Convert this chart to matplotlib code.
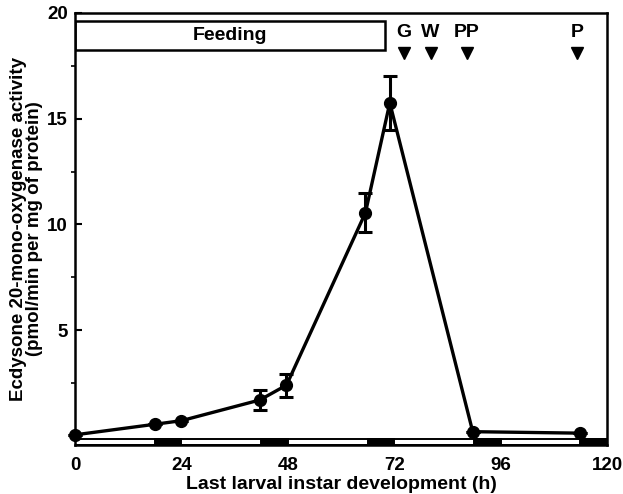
import matplotlib
matplotlib.use("Agg")
import matplotlib.pyplot as plt
from matplotlib.patches import Rectangle
from matplotlib.ticker import MultipleLocator

plt.rcParams['font.family'] = ['Liberation Sans', 'DejaVu Sans']
plt.rcParams['font.weight'] = 'bold'

hours = [0, 18, 24, 41.7, 47.7, 65.5, 71, 89.7, 114]
activity = [0.05, 0.55, 0.72, 1.7, 2.4, 10.55, 15.75, 0.2, 0.13]
errors = [0, 0, 0, 0.47, 0.55, 0.93, 1.27, 0, 0]

dark_periods = [(18, 24), (42, 48), (66, 72), (90, 96), (114, 120)]
stage_labels = ['G', 'W', 'PP', 'P']
stage_hours = [74.2, 80.2, 88.3, 113.3]
feeding_end = 70
xticks = [0, 24, 48, 72, 96, 120]
yticks = [5, 10, 15, 20]

fig = plt.figure(figsize=(6.23, 4.94), dpi=100)
ax = fig.add_axes([0.1204, 0.0992, 0.8540, 0.8745])
ax.set_xlim(0, 120)
ax.set_ylim(-0.43, 20)

ax.errorbar(hours, activity, yerr=errors, color='black', lw=2.4, marker='o',
            markersize=8.5, capsize=5, capthick=2.2, elinewidth=2.2, zorder=3,
            clip_on=False)

# photoperiod bar
bar_lo, bar_hi = -0.42, -0.13
ax.add_patch(Rectangle((0, bar_lo), 120, bar_hi - bar_lo, facecolor='white',
                       edgecolor='black', lw=1.4, zorder=2))
for a, b in dark_periods:
    ax.add_patch(Rectangle((a, bar_lo), b - a, bar_hi - bar_lo, facecolor='black',
                           edgecolor='black', lw=1.4, zorder=2))

# feeding box
ax.add_patch(Rectangle((0, 18.25), feeding_end, 1.35, facecolor='white',
                       edgecolor='black', lw=1.8, zorder=2))
ax.text(feeding_end / 2, 18.92, 'Feeding', ha='center', va='center', fontsize=14,
        fontweight='bold')
for lab, h in zip(stage_labels, stage_hours):
    ax.text(h, 19.1, lab, ha='center', va='center', fontsize=14, fontweight='bold')
    ax.plot([h], [18.1], marker='v', color='black', markersize=8, zorder=3)

ax.set_xticks(xticks)
ax.set_yticks(yticks)
ax.yaxis.set_minor_locator(MultipleLocator(2.5))
ax.tick_params(axis='both', labelsize=13.5, direction='in', width=1.5)
ax.tick_params(axis='x', length=0, pad=9)
ax.tick_params(axis='y', which='major', length=5, pad=5)
ax.tick_params(axis='y', which='minor', length=3, width=1.2)
for lbl in ax.get_xticklabels() + ax.get_yticklabels():
    lbl.set_fontweight('bold')
for s in ax.spines.values():
    s.set_linewidth(1.8)

ax.set_xlabel('Last larval instar development (h)', fontsize=14, fontweight='bold',
              labelpad=1)
ax.set_ylabel('Ecdysone 20-mono-oxygenase activity\n(pmol/min per mg of protein)',
              fontsize=13.5, fontweight='bold', labelpad=3, linespacing=0.95)

fig.savefig('out.png', dpi=100)
